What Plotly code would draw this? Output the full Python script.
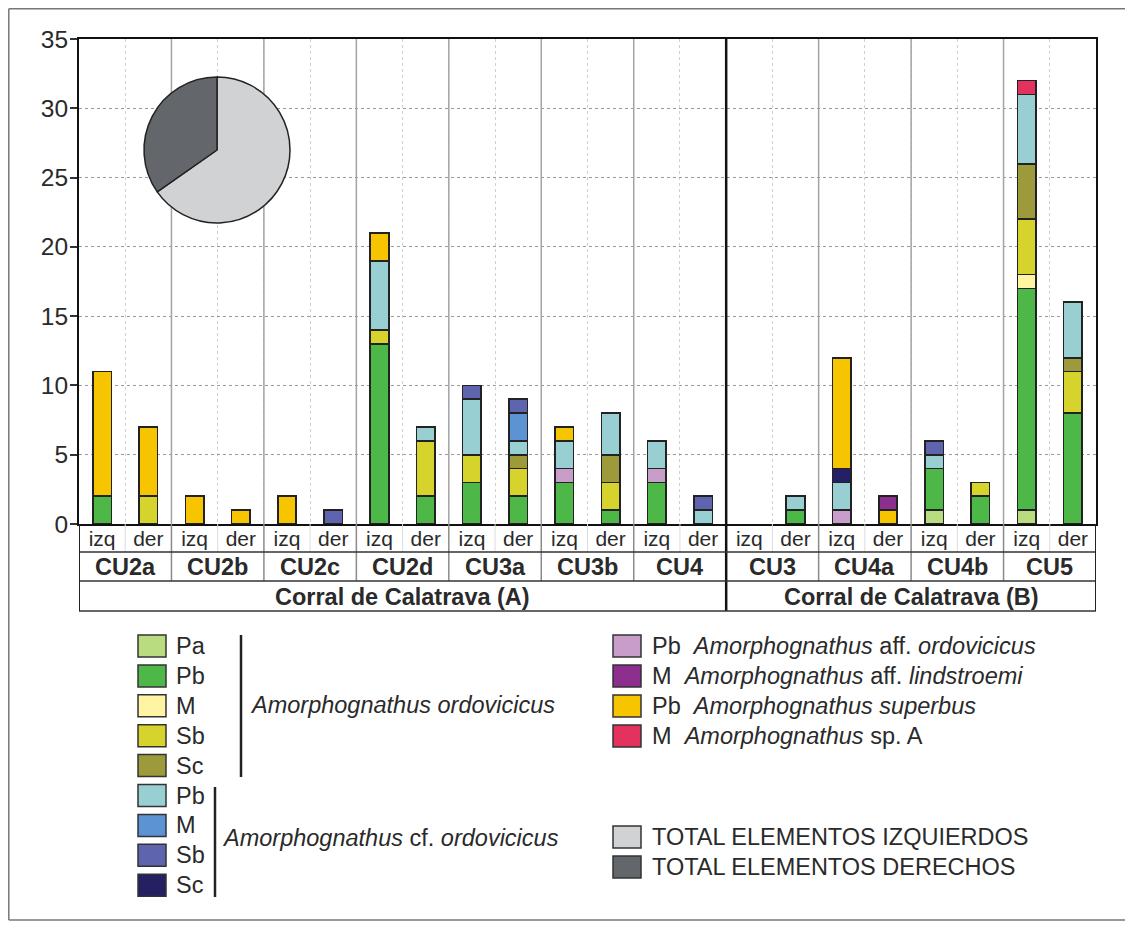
import plotly.graph_objects as go

# categories
groups = ["CU2a", "CU2b", "CU2c", "CU2d", "CU3a", "CU3b", "CU4", "CU3", "CU4a", "CU4b", "CU5"]
sides = ["izq", "der"]
regions = ["Corral de Calatrava (A)", "Corral de Calatrava (B)"]
groups_in_a = 7

# counts per bar (izq, der for each group), in stacking order
pa_ord = [0, 0, 0, 0, 0, 0, 0, 0, 0, 0, 0, 0, 0, 0, 0, 0, 0, 0, 1, 0, 1, 0]
pb_ord = [2, 0, 0, 0, 0, 0, 13, 2, 3, 2, 3, 1, 3, 0, 0, 1, 0, 0, 3, 2, 16, 8]
pb_aff_ord = [0, 0, 0, 0, 0, 0, 0, 0, 0, 0, 1, 0, 1, 0, 0, 0, 1, 0, 0, 0, 0, 0]
m_ord = [0, 0, 0, 0, 0, 0, 0, 0, 0, 0, 0, 0, 0, 0, 0, 0, 0, 0, 0, 0, 1, 0]
sb_ord = [0, 2, 0, 0, 0, 0, 1, 4, 2, 2, 0, 2, 0, 0, 0, 0, 0, 0, 0, 1, 4, 3]
sc_ord = [0, 0, 0, 0, 0, 0, 0, 0, 0, 1, 0, 2, 0, 0, 0, 0, 0, 0, 0, 0, 4, 1]
pb_cf = [0, 0, 0, 0, 0, 0, 5, 1, 4, 1, 2, 3, 2, 1, 0, 1, 2, 0, 1, 0, 5, 4]
m_cf = [0, 0, 0, 0, 0, 0, 0, 0, 0, 2, 0, 0, 0, 0, 0, 0, 0, 0, 0, 0, 0, 0]
sb_cf = [0, 0, 0, 0, 0, 1, 0, 0, 1, 1, 0, 0, 0, 1, 0, 0, 0, 0, 1, 0, 0, 0]
sc_cf = [0, 0, 0, 0, 0, 0, 0, 0, 0, 0, 0, 0, 0, 0, 0, 0, 1, 0, 0, 0, 0, 0]
pb_superbus = [9, 5, 2, 1, 2, 0, 2, 0, 0, 0, 1, 0, 0, 0, 0, 0, 8, 1, 0, 0, 0, 0]
m_aff_lind = [0, 0, 0, 0, 0, 0, 0, 0, 0, 0, 0, 0, 0, 0, 0, 0, 0, 1, 0, 0, 0, 0]
m_sp_a = [0, 0, 0, 0, 0, 0, 0, 0, 0, 0, 0, 0, 0, 0, 0, 0, 0, 0, 0, 0, 1, 0]

C_PA = "#b9dc80"
C_PB = "#4db848"
C_M = "#fff4a3"
C_SB = "#d5d32c"
C_SC = "#9c9a3b"
C_PB_CF = "#98cfd3"
C_M_CF = "#5c93d3"
C_SB_CF = "#5e64ae"
C_SC_CF = "#252063"
C_PB_AFF = "#c99dca"
C_M_LIND = "#8d2f8e"
C_SUPERBUS = "#f6c500"
C_SP_A = "#e3325f"
C_IZQ = "#d1d2d4"
C_DER = "#63676b"

series = [
    ("Pa A. ordovicicus", pa_ord, C_PA),
    ("Pb A. ordovicicus", pb_ord, C_PB),
    ("Pb A. aff. ordovicicus", pb_aff_ord, C_PB_AFF),
    ("M A. ordovicicus", m_ord, C_M),
    ("Sb A. ordovicicus", sb_ord, C_SB),
    ("Sc A. ordovicicus", sc_ord, C_SC),
    ("Pb A. cf. ordovicicus", pb_cf, C_PB_CF),
    ("M A. cf. ordovicicus", m_cf, C_M_CF),
    ("Sb A. cf. ordovicicus", sb_cf, C_SB_CF),
    ("Sc A. cf. ordovicicus", sc_cf, C_SC_CF),
    ("Pb A. superbus", pb_superbus, C_SUPERBUS),
    ("M A. aff. lindstroemi", m_aff_lind, C_M_LIND),
    ("M A. sp. A", m_sp_a, C_SP_A),
]

FONT = "Arial, Liberation Sans, sans-serif"
TXT = "#2a2a2a"
FS = 23.5

keys = [f"{g} {s}" for g in groups for s in sides]
side_labels = [s for g in groups for s in sides]

# page has an 8px body margin; figure is sized to fit inside it
PAGE_OFF = 8
W, H = 1133 - 2 * PAGE_OFF, 929 - 2 * PAGE_OFF
# plot area in page pixels (for placing table / legend decorations)
L, R, T, B = 79, 1096, 39, 524


def xp(p):
    return (p - L) / (R - L)


def yp(p):
    return (B - p) / (B - T)


fig = go.Figure()
for name, vals, col in series:
    fig.add_trace(go.Bar(
        x=keys, y=[v if v else None for v in vals], name=name,
        marker=dict(color=col, line=dict(color="#222222", width=1.6)),
        width=0.4, showlegend=False,
    ))

# pie of left vs right totals
n_bars = len(keys)
izq_total = sum(sum(v for i, v in enumerate(vals) if i % 2 == 0) for _, vals, _ in series)
der_total = sum(sum(v for i, v in enumerate(vals) if i % 2 == 1) for _, vals, _ in series)
fig.add_trace(go.Pie(
    values=[izq_total, der_total], labels=["TOTAL ELEMENTOS IZQUIERDOS", "TOTAL ELEMENTOS DERECHOS"],
    marker=dict(colors=[C_IZQ, C_DER], line=dict(color="#222222", width=1.5)),
    sort=False, direction="counterclockwise", rotation=0, textinfo="none",
    domain=dict(x=[xp(144), xp(290)], y=[yp(223), yp(77)]), showlegend=False,
))

shapes = []
# group separators inside plot and in the two upper table rows
for k in range(1, len(groups)):
    xb = 2 * k - 0.5
    if k == groups_in_a:
        shapes.append(dict(type="line", xref="x", yref="paper", x0=xb, x1=xb, y0=1, y1=yp(611),
                           line=dict(color="#111111", width=2.5), layer="above"))
        continue
    shapes.append(dict(type="line", xref="x", yref="y", x0=xb, x1=xb, y0=0, y1=35,
                       line=dict(color="#a3a3a3", width=1.5), layer="between"))
    shapes.append(dict(type="line", xref="x", yref="paper", x0=xb, x1=xb, y0=0, y1=yp(581),
                       line=dict(color="#8a8a8a", width=1.5), layer="above"))
# faint separators between izq / der
for k in range(len(groups)):
    xb = 2 * k + 0.5
    shapes.append(dict(type="line", xref="x", yref="paper", x0=xb, x1=xb, y0=0, y1=yp(552),
                       line=dict(color="#dcdcdc", width=1), layer="above"))
# table horizontal lines and borders
for py in (552, 581, 611):
    shapes.append(dict(type="line", xref="x", yref="paper", x0=-0.5, x1=n_bars - 0.5, y0=yp(py), y1=yp(py),
                       line=dict(color="#333333", width=1.5), layer="above"))
for xb in (-0.5, n_bars - 0.5):
    shapes.append(dict(type="line", xref="x", yref="paper", x0=xb, x1=xb, y0=0, y1=yp(611),
                       line=dict(color="#222222", width=2), layer="above"))
# outer frame of the figure (left, top, bottom)
FL, FT, FB, FR = 8.8, 8.8, 920, W + PAGE_OFF
shapes.append(dict(type="line", xref="paper", yref="paper", x0=xp(FL), x1=xp(FR), y0=yp(FT), y1=yp(FT),
                   line=dict(color="#777777", width=1.5)))
shapes.append(dict(type="line", xref="paper", yref="paper", x0=xp(FL), x1=xp(FL), y0=yp(FT), y1=yp(FB),
                   line=dict(color="#777777", width=1.5)))
shapes.append(dict(type="line", xref="paper", yref="paper", x0=xp(FL), x1=xp(FR), y0=yp(FB), y1=yp(FB),
                   line=dict(color="#777777", width=1.5)))

annotations = []
for k, g in enumerate(groups):
    annotations.append(dict(x=2 * k + 0.5, y=yp(567), xref="x", yref="paper", text=f"<b>{g}</b>",
                            showarrow=False, xanchor="center", yanchor="middle",
                            font=dict(family=FONT, size=FS, color=TXT)))
annotations.append(dict(x=(groups_in_a * 2 - 1) / 2, y=yp(597), xref="x", yref="paper",
                        text=f"<b>{regions[0]}</b>", showarrow=False, xanchor="center", yanchor="middle",
                        font=dict(family=FONT, size=FS, color=TXT)))
annotations.append(dict(x=(groups_in_a * 2 + n_bars - 1) / 2, y=yp(597), xref="x", yref="paper",
                        text=f"<b>{regions[1]}</b>", showarrow=False, xanchor="center", yanchor="middle",
                        font=dict(family=FONT, size=FS, color=TXT)))


# hand-built legend
def legend_box(x0, yc, color):
    shapes.append(dict(type="rect", xref="paper", yref="paper", x0=xp(x0), x1=xp(x0 + 28),
                       y0=yp(yc - 11), y1=yp(yc + 11), fillcolor=color,
                       line=dict(color="#333333", width=1.5)))


def legend_text(x0, yc, text):
    annotations.append(dict(x=xp(x0), y=yp(yc), xref="paper", yref="paper", text=text, showarrow=False,
                            xanchor="left", yanchor="middle", font=dict(family=FONT, size=FS, color=TXT)))


left_items = [("Pa", C_PA), ("Pb", C_PB), ("M", C_M), ("Sb", C_SB), ("Sc", C_SC),
              ("Pb", C_PB_CF), ("M", C_M_CF), ("Sb", C_SB_CF), ("Sc", C_SC_CF)]
for i, (lab, col) in enumerate(left_items):
    yc = 646 + 29.9 * i
    legend_box(138, yc, col)
    legend_text(174, yc, lab)
shapes.append(dict(type="line", xref="paper", yref="paper", x0=xp(241), x1=xp(241), y0=yp(635), y1=yp(777),
                   line=dict(color="#222222", width=2.5)))
legend_text(248, 705, "<i>Amorphognathus ordovicicus</i>")
shapes.append(dict(type="line", xref="paper", yref="paper", x0=xp(215), x1=xp(215), y0=yp(787), y1=yp(897),
                   line=dict(color="#222222", width=2.5)))
legend_text(220, 838, "<i>Amorphognathus</i> cf. <i>ordovicicus</i>")

right_items = [
    ("Pb&nbsp; <i>Amorphognathus</i> aff. <i>ordovicicus</i>", C_PB_AFF),
    ("M&nbsp; <i>Amorphognathus</i> aff. <i>lindstroemi</i>", C_M_LIND),
    ("Pb&nbsp; <i>Amorphognathus superbus</i>", C_SUPERBUS),
    ("M&nbsp; <i>Amorphognathus</i> sp. A", C_SP_A),
]
for i, (lab, col) in enumerate(right_items):
    yc = 646 + 30 * i
    legend_box(613, yc, col)
    legend_text(650, yc, lab)
for i, (lab, col) in enumerate([("TOTAL ELEMENTOS IZQUIERDOS", C_IZQ), ("TOTAL ELEMENTOS DERECHOS", C_DER)]):
    yc = 837 + 30 * i
    legend_box(613, yc, col)
    legend_text(650, yc, lab)

fig.update_layout(
    width=W, height=H,
    margin=dict(l=L - PAGE_OFF, r=W - (R - PAGE_OFF), t=T - PAGE_OFF, b=H - (B - PAGE_OFF), pad=0),
    barmode="stack", bargap=0.6,
    paper_bgcolor="white", plot_bgcolor="white",
    font=dict(family=FONT, color=TXT),
    shapes=shapes, annotations=annotations,
    xaxis=dict(
        type="category", categoryorder="array", categoryarray=keys,
        tickvals=keys, ticktext=side_labels, tickson="boundaries",
        range=[-0.5, n_bars - 0.5], ticks="", ticklabelstandoff=-5,
        showgrid=True, gridcolor="#d0d0d0", griddash="dot", gridwidth=1,
        showline=True, linecolor="#111111", linewidth=2, mirror=True,
        tickfont=dict(family=FONT, size=21, color=TXT),
    ),
    yaxis=dict(
        range=[0, 35], tickvals=[0, 5, 10, 15, 20, 25, 30, 35],
        ticks="outside", ticklen=7, tickcolor="#333333", tickwidth=1.5,
        ticklabelstandoff=-3,
        showgrid=True, gridcolor="#9a9a9a", griddash="dot", gridwidth=1,
        showline=True, linecolor="#111111", linewidth=2, mirror=True,
        zeroline=False, tickfont=dict(family=FONT, size=24.5, color=TXT),
    ),
)

fig.write_html("out.html")
